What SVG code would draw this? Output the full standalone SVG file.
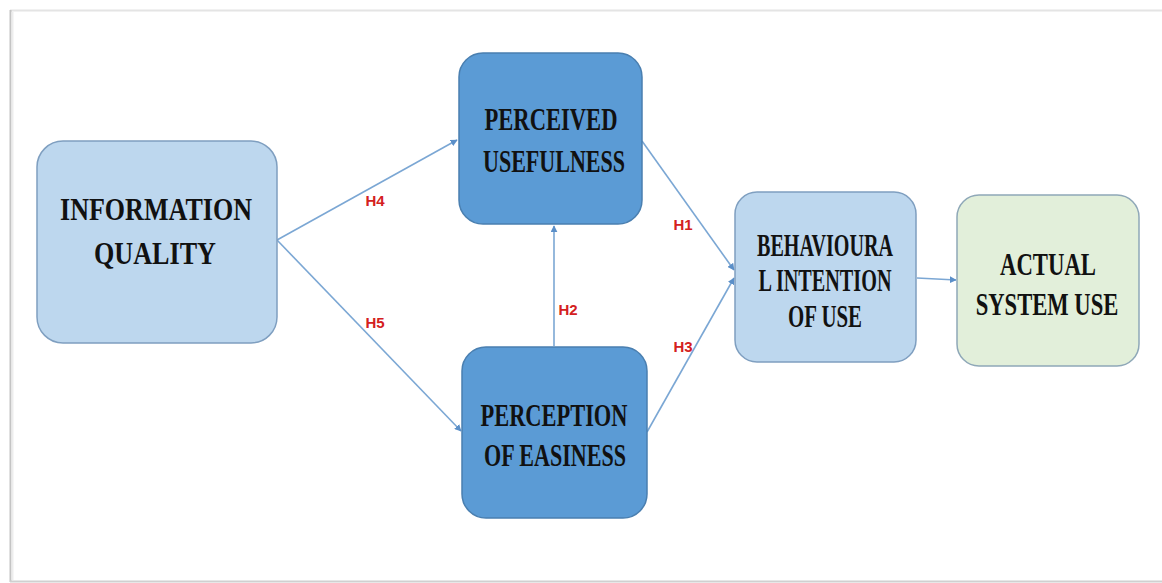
<svg xmlns="http://www.w3.org/2000/svg" width="1162" height="583" viewBox="0 0 1162 583">
<style>
.light{fill:#BDD7EE;stroke:#7F9FC0;stroke-width:1.5}
.dark{fill:#5B9BD5;stroke:#4A7FB0;stroke-width:1.5}
.green{fill:#E2EFDA;stroke:#8FA8B8;stroke-width:1.5}
.t{font-family:"Liberation Serif","Times New Roman",serif;font-weight:bold;font-size:31px;fill:#111;text-anchor:middle}
.h{font-family:"Liberation Sans",Arial,sans-serif;font-weight:bold;font-size:15px;fill:#D42020;text-anchor:middle}
.c{stroke:#7BA7D4;stroke-width:1.6;fill:none;marker-end:url(#ah)}
</style>
<defs>
<marker id="ah" viewBox="0 0 10 10" refX="9" refY="5" markerWidth="7" markerHeight="7" markerUnits="userSpaceOnUse" orient="auto">
<path d="M0,0 L10,5 L0,10 Z" fill="#5B8FC8"/>
</marker>
</defs>
<rect x="0" y="0" width="1162" height="583" fill="#ffffff"/>
<g id="frame">
<line x1="10" y1="10.5" x2="1162" y2="10.5" stroke="#E4E4E4" stroke-width="2"/>
<line x1="10.5" y1="10" x2="10.5" y2="582" stroke="#C4C4C4" stroke-width="2"/>
<line x1="12.5" y1="12" x2="12.5" y2="580" stroke="#EDEDED" stroke-width="2"/>
<line x1="10" y1="581.5" x2="1162" y2="581.5" stroke="#D0D0D0" stroke-width="2"/>
</g>
<g id="connectors">
<line class="c" x1="277" y1="240" x2="457" y2="140"/>
<line class="c" x1="277" y1="240" x2="461" y2="431"/>
<line class="c" x1="554" y1="346" x2="554" y2="226"/>
<line class="c" x1="642" y1="141" x2="734" y2="270"/>
<line class="c" x1="647" y1="432" x2="734" y2="278"/>
<line class="c" x1="917" y1="278" x2="956" y2="280"/>
<text class="h" x="375" y="206">H4</text>
<text class="h" x="375" y="328">H5</text>
<text class="h" x="568" y="315">H2</text>
<text class="h" x="683" y="230">H1</text>
<text class="h" x="683" y="352">H3</text>
</g>
<g id="information-quality">
<rect class="light" x="37" y="141" width="240" height="202" rx="26"/>
<text class="t" x="156" y="220" textLength="192" lengthAdjust="spacingAndGlyphs">INFORMATION</text>
<text class="t" x="155" y="264" textLength="122" lengthAdjust="spacingAndGlyphs">QUALITY</text>
</g>
<g id="perceived-usefulness">
<rect class="dark" x="459" y="53" width="183" height="171" rx="24"/>
<text class="t" x="551" y="130" textLength="133" lengthAdjust="spacingAndGlyphs">PERCEIVED</text>
<text class="t" x="554" y="172" textLength="142" lengthAdjust="spacingAndGlyphs">USEFULNESS</text>
</g>
<g id="perception-of-easiness">
<rect class="dark" x="462" y="347" width="185" height="171" rx="24"/>
<text class="t" x="554" y="426" textLength="147" lengthAdjust="spacingAndGlyphs">PERCEPTION</text>
<text class="t" x="555" y="466" textLength="142" lengthAdjust="spacingAndGlyphs">OF EASINESS</text>
</g>
<g id="behavioural-intention">
<rect class="light" x="735" y="192" width="181" height="170" rx="22"/>
<text class="t" x="825" y="256" font-size="28" textLength="136" lengthAdjust="spacingAndGlyphs">BEHAVIOURA</text>
<text class="t" x="825" y="291" font-size="28" textLength="133" lengthAdjust="spacingAndGlyphs">L INTENTION</text>
<text class="t" x="825" y="327" font-size="28" textLength="74" lengthAdjust="spacingAndGlyphs">OF USE</text>
</g>
<g id="actual-system-use">
<rect class="green" x="957" y="195" width="182" height="171" rx="22"/>
<text class="t" x="1048" y="275" textLength="96" lengthAdjust="spacingAndGlyphs">ACTUAL</text>
<text class="t" transform="translate(1047,315) scale(0.73,1)" x="0" y="0">SYSTEM USE</text>
</g>
</svg>
